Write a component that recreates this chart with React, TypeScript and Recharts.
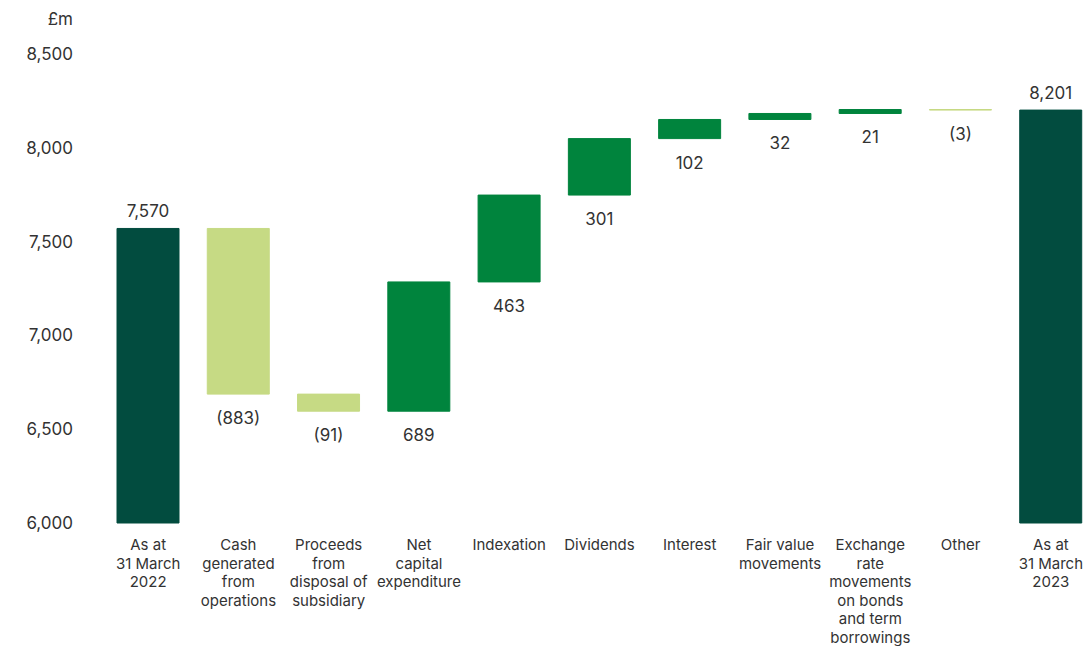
import React from "react"
import { BarChart, Bar, XAxis, YAxis, Cell, LabelList } from "recharts"

const categories = [
  "As at\n31 March\n2022",
  "Cash\ngenerated\nfrom\noperations",
  "Proceeds\nfrom\ndisposal of\nsubsidiary",
  "Net\ncapital\nexpenditure",
  "Indexation",
  "Dividends",
  "Interest",
  "Fair value\nmovements",
  "Exchange\nrate\nmovements\non bonds\nand term\nborrowings",
  "Other",
  "As at\n31 March\n2023",
]
// total bars hold the balance, the rest are movements
const values = [7570, -883, -91, 689, 463, 301, 102, 32, 21, -3, 8201]
const isTotal = [true, false, false, false, false, false, false, false, false, false, true]
const yTicks = [6000, 6500, 7000, 7500, 8000, 8500]

const DARK = "#024c3f"
const LIGHT = "#c6da84"
const MID = "#00843d"
const TEXT = "#333333"
const FONT = "Inter, 'Noto Sans', sans-serif"

let running = 0
const data = categories.map((name, i) => {
  const v = values[i]
  let range: [number, number]
  if (isTotal[i]) {
    range = [6000, v]
    running = v
  } else {
    const next = running + v
    range = [Math.min(running, next), Math.max(running, next)]
    running = next
  }
  const label = isTotal[i] ? v.toLocaleString("en-GB") : v < 0 ? `(${Math.abs(v)})` : `${v}`
  const color = isTotal[i] ? DARK : v < 0 ? LIGHT : MID
  return { name, range, label, color, total: isTotal[i] }
})

function CategoryTick(props: any) {
  const { x, y, payload } = props
  const lines = String(payload.value).split("\n")
  return (
    <text x={x} y={y + 27} textAnchor="middle" fill={TEXT} fontSize={15} fontFamily={FONT}>
      {lines.map((l, i) => (
        <tspan key={i} x={x} dy={i === 0 ? 0 : 18.6}>
          {l}
        </tspan>
      ))}
    </text>
  )
}

function ValueLabel(props: any) {
  const { x, y, width, height, index } = props
  const d = data[index]
  const top = Math.min(y, y + height)
  const bottom = Math.max(y, y + height)
  const ty = d.total ? top - 11 : bottom + 30
  return (
    <text x={x + width / 2} y={ty} textAnchor="middle" fill={TEXT} fontSize={17} fontFamily={FONT}>
      {d.label}
    </text>
  )
}

export default function App() {
  return (
    <div
      style={{
        position: "absolute",
        left: 0,
        top: 0,
        width: 1087,
        height: 646,
        overflow: "hidden",
        background: "#fff",
      }}
    >
      <div
        style={{
          position: "absolute",
          left: 0,
          width: 73,
          top: 9,
          textAlign: "right",
          fontFamily: FONT,
          fontSize: 17,
          color: TEXT,
        }}
      >
        £m
      </div>
      <BarChart
        width={1087}
        height={646}
        data={data}
        margin={{ top: 54, right: -9, bottom: 0, left: 0 }}
      >
        <XAxis
          dataKey="name"
          axisLine={false}
          tickLine={false}
          tickSize={0}
          tickMargin={0}
          interval={0}
          height={123}
          tick={<CategoryTick />}
        />
        <YAxis
          domain={[6000, 8500]}
          ticks={yTicks}
          axisLine={false}
          tickLine={false}
          tickSize={0}
          tickMargin={30}
          width={103}
          tickFormatter={(v: number) => v.toLocaleString("en-GB")}
          tick={{ fill: TEXT, fontSize: 17, fontFamily: FONT }}
        />
        <Bar dataKey="range" barSize={62} isAnimationActive={false}>
          {data.map((d, i) => (
            <Cell key={i} fill={d.color} stroke={d.color} strokeWidth={1} />
          ))}
          <LabelList dataKey="label" content={<ValueLabel />} />
        </Bar>
      </BarChart>
    </div>
  )
}
